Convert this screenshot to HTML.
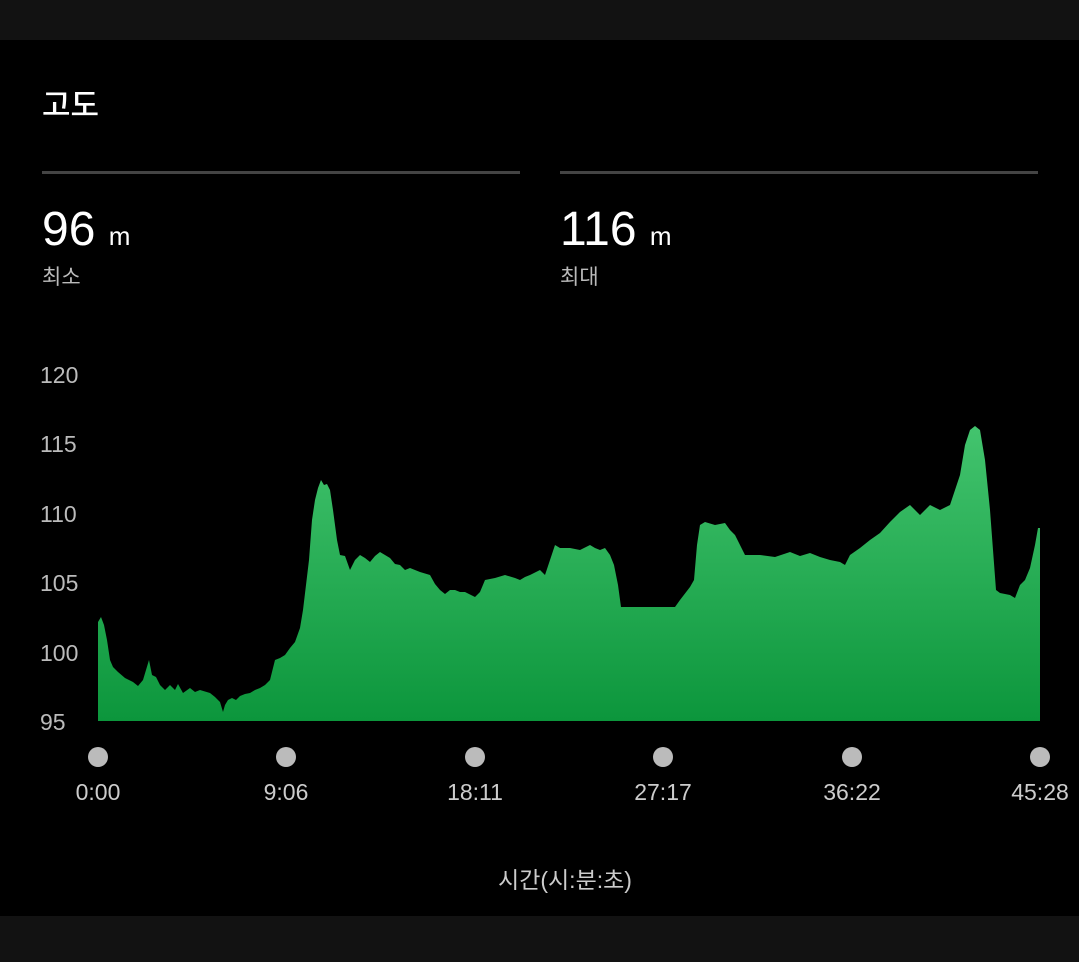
<!DOCTYPE html>
<html><head><meta charset="utf-8"><style>
body{margin:0;width:1079px;height:962px;background:#000;overflow:hidden;font-family:"Liberation Sans","Noto Sans CJK KR",sans-serif;}
</style></head><body>
<svg width="1079" height="962" xmlns="http://www.w3.org/2000/svg" style="position:absolute;left:0;top:0;font-family:'Liberation Sans','Noto Sans CJK KR',sans-serif">
<defs><linearGradient id="g" x1="0" y1="0" x2="0" y2="1"><stop offset="0" stop-color="#43c46e"/><stop offset="1" stop-color="#0c963c"/></linearGradient></defs>
<rect x="0" y="0" width="1079" height="40" fill="#121212"/>
<rect x="0" y="916" width="1079" height="46" fill="#121212"/>
<text x="42" y="116" fill="#fff" font-size="31" font-weight="500">고도</text>
<rect x="42" y="171" width="478" height="3" fill="#444"/>
<rect x="560" y="171" width="478" height="3" fill="#444"/>
<text x="42" y="245" fill="#fff" font-size="48">96 <tspan font-size="26">m</tspan></text>
<text x="560" y="245" fill="#fff" font-size="48">116 <tspan font-size="26">m</tspan></text>
<text x="42" y="284" fill="#bbb" font-size="21">최소</text>
<text x="560" y="284" fill="#bbb" font-size="21">최대</text>
<g fill="#bbb" font-size="23">
<text x="40" y="383">120</text><text x="40" y="452">115</text><text x="40" y="522">110</text>
<text x="40" y="591">105</text><text x="40" y="661">100</text><text x="40" y="730">95</text>
</g>
<path fill="url(#g)" d="M98,721 L98,622 101,617 104,625 107,640 110,660 113,667 118,672 125,678 133,682 138,686 143,680 146,670 149,660 152,675 156,677 160,685 165,690 170,685 175,690 178,684 183,693 190,688 195,692 200,690 210,693 215,697 220,702 223,712 225,705 228,700 232,698 236,700 240,696 245,694 250,693 255,690 260,688 265,685 270,680 275,660 280,658 285,655 290,648 295,642 300,628 303,610 306,585 309,560 312,520 315,500 318,488 321,480 324,485 327,484 330,490 333,510 337,540 340,555 345,556 350,570 355,560 360,555 365,558 370,562 375,556 380,552 385,555 390,558 395,564 400,565 405,570 410,568 420,572 430,575 435,584 440,590 445,594 450,590 455,590 460,592 465,592 475,597 480,592 485,580 495,578 505,575 515,578 520,580 525,577 530,575 540,570 545,575 550,560 555,545 560,548 570,548 580,550 590,545 595,548 600,550 605,548 610,555 614,565 618,585 621,607 675,607 680,600 690,587 694,580 697,545 700,525 705,522 715,525 725,523 730,530 735,535 740,545 745,555 760,555 775,557 790,552 800,556 810,553 820,557 830,560 840,562 845,565 850,555 860,548 870,540 880,533 890,522 900,512 910,505 915,510 920,515 930,505 940,510 950,505 955,490 960,475 965,445 970,430 975,426 980,430 985,460 990,510 993,550 996,590 1000,593 1010,595 1015,598 1020,585 1025,580 1030,568 1035,545 1038,528 1040,528 L1040,721 Z"/>
<g fill="#bbb"><circle cx="98" cy="757" r="10"/><circle cx="286" cy="757" r="10"/><circle cx="475" cy="757" r="10"/><circle cx="663" cy="757" r="10"/><circle cx="852" cy="757" r="10"/><circle cx="1040" cy="757" r="10"/></g>
<g fill="#ccc" font-size="23" text-anchor="middle">
<text x="98" y="800">0:00</text><text x="286" y="800">9:06</text><text x="475" y="800">18:11</text>
<text x="663" y="800">27:17</text><text x="852" y="800">36:22</text><text x="1040" y="800">45:28</text>
<text x="565" y="888" font-size="23">시간(시:분:초)</text>
</g>
</svg>
</body></html>
